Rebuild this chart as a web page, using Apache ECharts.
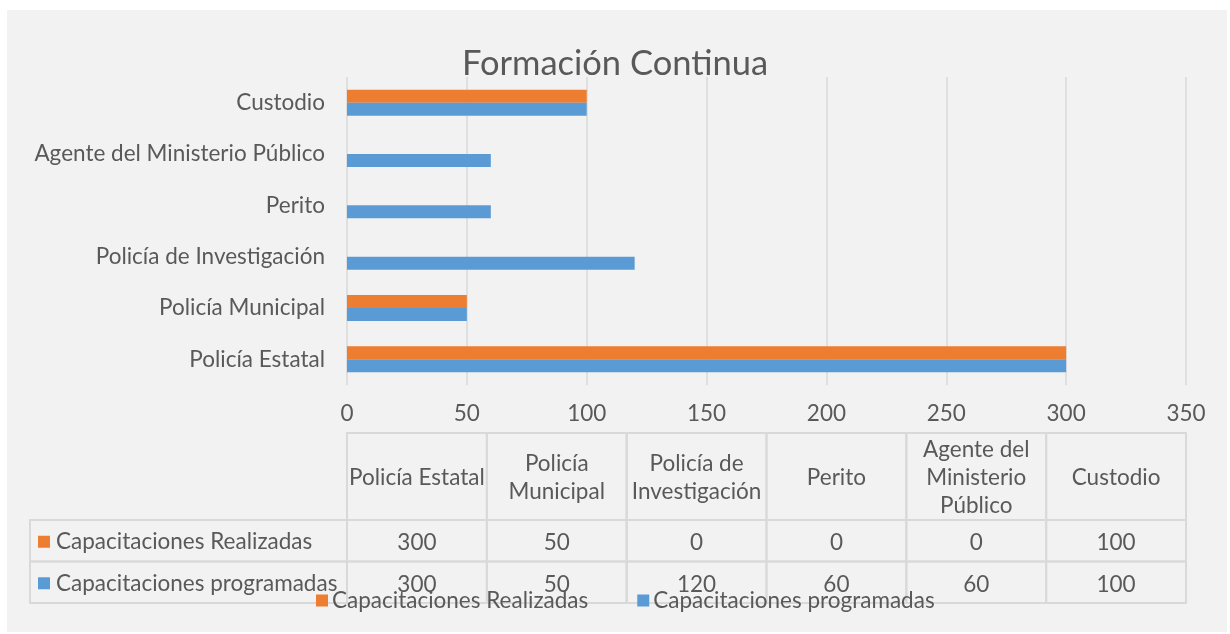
<!DOCTYPE html>
<html>
<head>
<meta charset="utf-8">
<script src="https://cdn.jsdelivr.net/npm/echarts@6/dist/echarts.min.js"></script>
<style>
html,body{margin:0;padding:0;background:#ffffff;}
#chart{width:1230px;height:634px;}
</style>
</head>
<body>
<div id="chart"></div>
<script>
// ---- data ----
const categories = ['Policía Estatal', 'Policía Municipal', 'Policía de Investigación', 'Perito', 'Agente del Ministerio Público', 'Custodio'];
const headerLabels = ['Policía Estatal', 'Policía\nMunicipal', 'Policía de\nInvestigación', 'Perito', 'Agente del\nMinisterio\nPúblico', 'Custodio'];
const realizadas = [300, 50, 0, 0, 0, 100];
const programadas = [300, 50, 120, 60, 60, 100];
const seriesNames = ['Capacitaciones Realizadas', 'Capacitaciones programadas'];
const titleText = 'Formación Continua';
const xMin = 0, xMax = 350, xStep = 50;

// ---- styles ----
const FONT = 'Lato, "Open Sans", sans-serif';
const TXT = '#595959';
const GRIDC = '#d9d9d9';
const colors = ['#ED7D31', '#5B9BD5'];
const FS = 22.5;

const rows = [realizadas, programadas];
const tableData = [];
rows.forEach((arr, r) => arr.forEach((v, c) => tableData.push([c, r, v])));

const headerH = 87;
const labelLeft = 30;

const chart = echarts.init(document.getElementById('chart'), null, {renderer: 'canvas'});
chart.setOption({
  animation: false,
  backgroundColor: '#ffffff',
  textStyle: {fontFamily: FONT},
  graphic: [{
    type: 'rect', z: -100, silent: true,
    shape: {x: 7, y: 10, width: 1220, height: 622},
    style: {fill: '#f2f2f2'}
  }],
  title: {
    text: titleText, left: 'center', top: 41,
    textStyle: {fontFamily: FONT, fontSize: 34.5, fontWeight: 'normal', color: TXT}
  },
  legend: {
    data: seriesNames,
    left: 311, top: 584,
    itemWidth: 12, itemHeight: 12, itemGap: 49,
    icon: 'rect',
    textStyle: {fontFamily: FONT, fontSize: FS, color: TXT, padding: [0, 0, 0, -1]}
  },
  grid: [
    {left: 347, right: 44, top: 77, height: 308},
    {left: 347, right: 44, top: 520, height: 83}
  ],
  xAxis: [
    {
      type: 'value', gridIndex: 0, min: xMin, max: xMax, interval: xStep,
      axisLine: {show: false}, axisTick: {show: false},
      axisLabel: {fontFamily: FONT, fontSize: FS, color: TXT, margin: 17},
      splitLine: {show: true, lineStyle: {color: GRIDC, width: 1.5}}
    },
    {
      type: 'category', gridIndex: 1, data: categories, show: false
    }
  ],
  yAxis: [
    {
      type: 'category', gridIndex: 0, data: categories,
      axisLine: {show: false}, axisTick: {show: false},
      axisLabel: {fontFamily: FONT, fontSize: FS, color: TXT, margin: 22}
    },
    {
      type: 'category', gridIndex: 1, data: seriesNames, inverse: true, show: false
    }
  ],
  series: [
    {
      name: seriesNames[0], type: 'bar', xAxisIndex: 0, yAxisIndex: 0,
      data: realizadas, barWidth: 13, barGap: '0%',
      itemStyle: {color: colors[0]}
    },
    {
      name: seriesNames[1], type: 'bar', xAxisIndex: 0, yAxisIndex: 0,
      data: programadas, barWidth: 13, barGap: '0%',
      itemStyle: {color: colors[1]}
    },
    {
      type: 'custom', xAxisIndex: 1, yAxisIndex: 1, clip: false, silent: true,
      data: tableData,
      renderItem: function (params, api) {
        const c = api.value(0), r = api.value(1), v = api.value(2);
        const p = api.coord([c, r]);
        const sz = api.size([1, 1]);
        const w = sz[0], h = sz[1];
        const x0 = p[0] - w / 2, y0 = p[1] - h / 2;
        const cs = params.coordSys;
        const line = {fill: null, stroke: GRIDC, lineWidth: 2};
        const children = [
          {type: 'rect', shape: {x: x0, y: y0, width: w, height: h}, style: Object.assign({}, line)},
          {type: 'text', style: {text: String(v), x: p[0], y: p[1] + 2, align: 'center', verticalAlign: 'middle',
            fontFamily: FONT, fontSize: FS, fill: TXT}}
        ];
        if (r === 0) {
          children.push({type: 'rect', shape: {x: x0, y: cs.y - headerH, width: w, height: headerH}, style: Object.assign({}, line)});
          children.push({type: 'text', style: {text: headerLabels[c], x: p[0], y: cs.y - headerH / 2 + 1, align: 'center', verticalAlign: 'middle',
            fontFamily: FONT, fontSize: FS, lineHeight: 28, fill: TXT}});
        }
        if (c === 0) {
          children.push({type: 'rect', shape: {x: labelLeft, y: y0, width: cs.x - labelLeft, height: h}, style: Object.assign({}, line)});
          children.push({type: 'rect', shape: {x: labelLeft + 8, y: p[1] - 5, width: 12, height: 12}, style: {fill: colors[r]}});
          children.push({type: 'text', style: {text: seriesNames[r], x: labelLeft + 26, y: p[1] + 1, align: 'left', verticalAlign: 'middle',
            fontFamily: FONT, fontSize: FS, fill: TXT}});
        }
        return {type: 'group', children: children};
      }
    }
  ]
});
</script>
</body>
</html>
